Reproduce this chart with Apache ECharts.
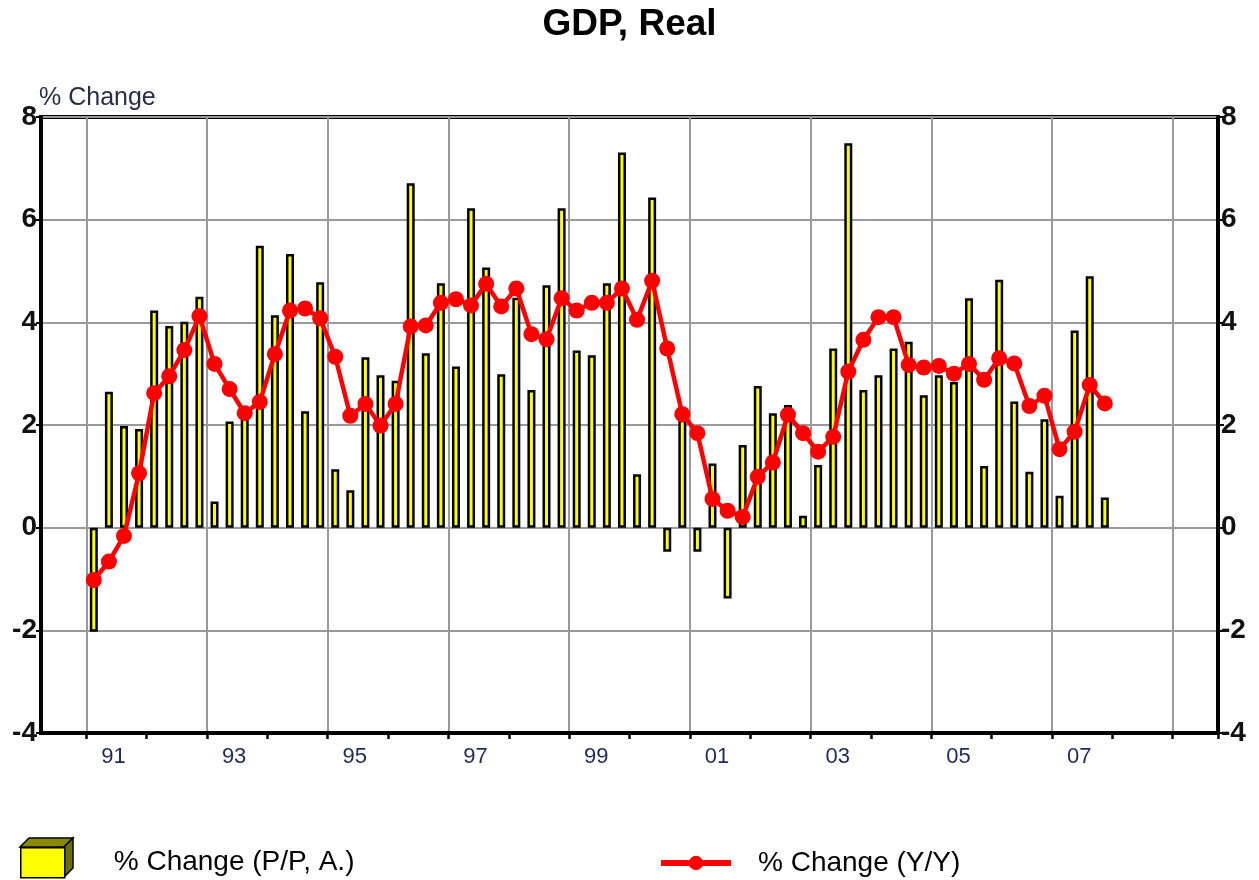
<!DOCTYPE html>
<html><head><meta charset="utf-8">
<script src="https://cdn.jsdelivr.net/npm/echarts@6/dist/echarts.min.js"></script>
<style>html,body{margin:0;padding:0;background:#fff}#c{width:1259px;height:880px}</style>
</head><body><div id="c"></div>
<script>
// Quarterly real GDP growth, 1991Q1 .. 2007Q4
const qoqGrowth = [-2.03, 2.65, 1.98, 1.92, 4.23, 3.93, 4.01, 4.5, 0.51, 2.07,
  2.25, 5.49, 4.14, 5.33, 2.27, 4.78, 1.14, 0.73, 3.32, 2.97,
  2.86, 6.71, 3.40, 4.76, 3.14, 6.22, 5.07, 2.99, 4.48, 2.68,
  4.72, 6.22, 3.45, 3.36, 4.76, 7.31, 1.04, 6.43, -0.47, 2.1,
  -0.47, 1.25, -1.38, 1.61, 2.76, 2.23, 2.39, 0.23, 1.22, 3.49,
  7.49, 2.68, 2.97, 3.49, 3.62, 2.58, 2.97, 2.84, 4.47, 1.2,
  4.83, 2.46, 1.09, 2.11, 0.62, 3.84, 4.9, 0.59];
const yoyGrowth = [-1.02, -0.66, -0.16, 1.06, 2.62, 2.95, 3.46, 4.12, 3.19, 2.7,
  2.23, 2.45, 3.38, 4.23, 4.27, 4.08, 3.33, 2.18, 2.41, 1.99,
  2.41, 3.92, 3.94, 4.38, 4.45, 4.33, 4.75, 4.31, 4.66, 3.77,
  3.67, 4.47, 4.23, 4.38, 4.38, 4.66, 4.05, 4.81, 3.49, 2.21,
  1.84, 0.56, 0.33, 0.21, 0.99, 1.27, 2.2, 1.84, 1.48, 1.77,
  3.04, 3.66, 4.1, 4.1, 3.17, 3.12, 3.15, 3.0, 3.19, 2.88,
  3.3, 3.2, 2.37, 2.57, 1.53, 1.87, 2.78, 2.42];
const yearTickLabels = ['91', '93', '95', '97', '99', '01', '03', '05', '07'];
const seriesNames = ['% Change (P/P, A.)', '% Change (Y/Y)'];
const axisFirst = [1990, 2];   // axis starts at 1990Q2
const axisLast = [2009, 3];    // axis ends at 2009Q3
const dataFirst = [1991, 1];

// build quarter categories
const categories = [];
for (let y = axisFirst[0], q = axisFirst[1]; y < axisLast[0] || (y === axisLast[0] && q <= axisLast[1]);) {
  categories.push(y + 'Q' + q);
  q++; if (q > 4) { q = 1; y++; }
}
const offset = categories.indexOf(dataFirst[0] + 'Q' + dataFirst[1]);
function pad(arr) {
  const out = categories.map(() => null);
  arr.forEach((v, i) => { out[offset + i] = v; });
  return out;
}
const isYearStart = i => categories[i].endsWith('Q1');
const isOddYearStart = i => isYearStart(i) && (parseInt(categories[i]) % 2 === 1);

const chart = echarts.init(document.getElementById('c'), null, {renderer: 'canvas'});
const L = 41, R = 41, T = 117, B = 147;
const FONT = 'Liberation Sans, Arial';
chart.setOption({
  backgroundColor: '#fff',
  animation: false,
  title: [
    {
      text: 'GDP, Real', left: 'center', top: 1,
      textStyle: {fontFamily: FONT, fontSize: 37, fontWeight: 'bold', color: '#000'}
    },
    {
      text: '% Change', left: 39, top: 86, padding: 0,
      textStyle: {fontFamily: FONT, fontSize: 25, fontWeight: 'normal', color: '#2a2d4a'}
    }
  ],
  grid: {left: L, right: R, top: T, bottom: B, show: true, borderColor: '#000', borderWidth: 4, backgroundColor: 'transparent'},
  legend: [
    {
      data: [seriesNames[0]], left: 20, top: 847, padding: 0, itemWidth: 44, itemHeight: 30,
      icon: 'rect', selectedMode: false,
      itemStyle: {color: '#ffff00', borderColor: '#000', borderWidth: 1.5},
      textStyle: {fontFamily: FONT, fontSize: 28, color: '#000', padding: [0, 0, 0, 44]}
    },
    {
      data: [seriesNames[1]], left: 658, top: 849, padding: 0, itemWidth: 70, itemHeight: 18,
      selectedMode: false,
      lineStyle: {width: 6, color: '#ff0000'},
      itemStyle: {color: '#ff0000'},
      textStyle: {fontFamily: FONT, fontSize: 28, color: '#000', padding: [0, 0, 0, 22]}
    }
  ],
  graphic: [
    {type: 'polygon', shape: {points: [[20, 847], [29, 838], [73, 838], [64, 847]]},
     style: {fill: '#8a8a00', stroke: '#000', lineWidth: 1.5}},
    {type: 'polygon', shape: {points: [[64, 847], [73, 838], [73, 868], [64, 877]]},
     style: {fill: '#6e6e00', stroke: '#000', lineWidth: 1.5}}
  ],
  xAxis: {
    type: 'category', data: categories, boundaryGap: true,
    axisLine: {show: true, onZero: false, lineStyle: {color: '#000', width: 4}},
    axisTick: {show: true, interval: (i) => isYearStart(i), length: 6, lineStyle: {color: '#000', width: 2.5}},
    splitLine: {show: true, interval: (i) => isOddYearStart(i), lineStyle: {color: '#9a9a9a', width: 2}},
    axisLabel: {
      interval: (i) => {
        const yy = categories[i].slice(2, 4);
        return categories[i].endsWith('Q2') && yearTickLabels.includes(yy);
      },
      formatter: (v) => v.slice(2, 4),
      margin: 13, fontFamily: FONT, fontSize: 22, color: '#1f2a5c',
      padding: [0, 0, 0, 9]
    }
  },
  yAxis: [
    {
      type: 'value', min: -4, max: 8, interval: 2, position: 'left',
      axisLine: {show: true, lineStyle: {color: '#000', width: 4}},
      axisTick: {show: true, length: 5, lineStyle: {color: '#000', width: 2}},
      splitLine: {show: true, lineStyle: {color: '#9a9a9a', width: 2}},
      axisLabel: {margin: 4, fontFamily: FONT, fontSize: 28, fontWeight: 'bold', color: '#111'}
    },
    {
      type: 'value', min: -4, max: 8, interval: 2, position: 'right',
      axisLine: {show: true, lineStyle: {color: '#000', width: 4}},
      axisTick: {show: true, length: 6, lineStyle: {color: '#000', width: 2}},
      splitLine: {show: false},
      axisLabel: {margin: 3, fontFamily: FONT, fontSize: 28, fontWeight: 'bold', color: '#111'}
    }
  ],
  series: [
    {
      name: seriesNames[0], type: 'bar', data: pad(qoqGrowth), barWidth: 8,
      itemStyle: {color: '#ffff00', borderColor: '#000', borderWidth: 2.5}, z: 2
    },
    {
      name: seriesNames[1], type: 'line', data: pad(yoyGrowth), connectNulls: false,
      symbol: 'circle', symbolSize: 16, showAllSymbol: true,
      lineStyle: {color: '#ff0000', width: 4.5}, itemStyle: {color: '#ff0000'}, z: 3
    }
  ]
});
</script></body></html>
